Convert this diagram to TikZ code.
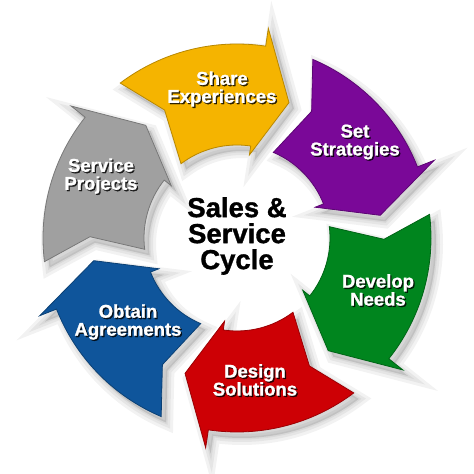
\documentclass[tikz,border=0pt]{standalone}
\usepackage{fontspec}
\setmainfont{Liberation Sans}
\newfontfamily\heavyfont[BoldFont={Liberation Sans Bold}, BoldFeatures={FakeBold=1.2}]{Liberation Sans}
\definecolor{cyYellow}{RGB}{245,180,0}
\definecolor{cyPurple}{RGB}{122,8,152}
\definecolor{cyGreen}{RGB}{0,133,30}
\definecolor{cyRed}{RGB}{205,0,5}
\definecolor{cyBlue}{RGB}{15,85,155}
\definecolor{cyGray}{RGB}{160,160,160}
\newcommand{\cycpath}[1]{({#1}:194) arc[start angle={#1}, end angle={#1-45.5}, radius=194] -- ({#1-45.5}:212) -- ({#1-58}:145) -- ({#1-45.5}:84) -- ({#1-45.5}:93) arc[start angle={#1-45.5}, end angle={#1}, radius=93] -- ({#1-7.5}:147) -- cycle}
\tikzset{
  cyclbl/.style={font=\heavyfont\fontsize{18.5}{18}\selectfont\bfseries, align=center, text=white, inner sep=0pt},
  cycshd/.style={font=\heavyfont\fontsize{18.5}{18}\selectfont\bfseries, align=center, text=black, inner sep=0pt, text opacity=0.8},
  cycshadow/.style={shift={(5,-6)}, fill=black, fill opacity=0.11, draw=black, draw opacity=0.05},
  centertxt/.style={font=\heavyfont\fontsize{27.5}{26}\selectfont\bfseries, align=center, text=black, inner sep=0pt}
}
\newcommand{\cyclabel}[3]{%
  \node[cycshd] at ($(#2)+(1.3,-1.3)$) {#3};
  \node[cyclbl] (#1) at (#2) {#3};}
\usetikzlibrary{calc}
\begin{document}
\begin{tikzpicture}[x=1pt,y=1pt]
\useasboundingbox (0,0) rectangle (474,474);
\fill[white] (0,0) rectangle (474,474);
\begin{scope}[shift={(237,236)}]
  % shadows
  \foreach \t in {127,67,7,-53,-113,-173} {
    \path[cycshadow, line width=14] \cycpath{\t};
    \path[cycshadow, line width=8, fill opacity=0] \cycpath{\t};
    \path[cycshadow, line width=3, fill opacity=0] \cycpath{\t};
  }
  % arrows
  \foreach \t/\c in {127/cyYellow,67/cyPurple,7/cyGreen,-53/cyRed,-113/cyBlue,-173/cyGray} {
    \filldraw[fill=\c, draw=\c!75!black, line width=0.8, line join=miter] \cycpath{\t};
  }
\end{scope}
\cyclabel{share}{222,385}{Share\\Experiences}
\cyclabel{set}{355,332}{Set\\Strategies}
\cyclabel{develop}{378,184}{Develop\\Needs}
\cyclabel{design}{255,94}{Design\\Solutions}
\cyclabel{obtain}{128,152}{Obtain\\Agreements}
\cyclabel{service}{101,298}{Service\\Projects}
\node[centertxt] (center) at (237,238) {Sales \&\\Service\\Cycle};
\end{tikzpicture}
\end{document}
